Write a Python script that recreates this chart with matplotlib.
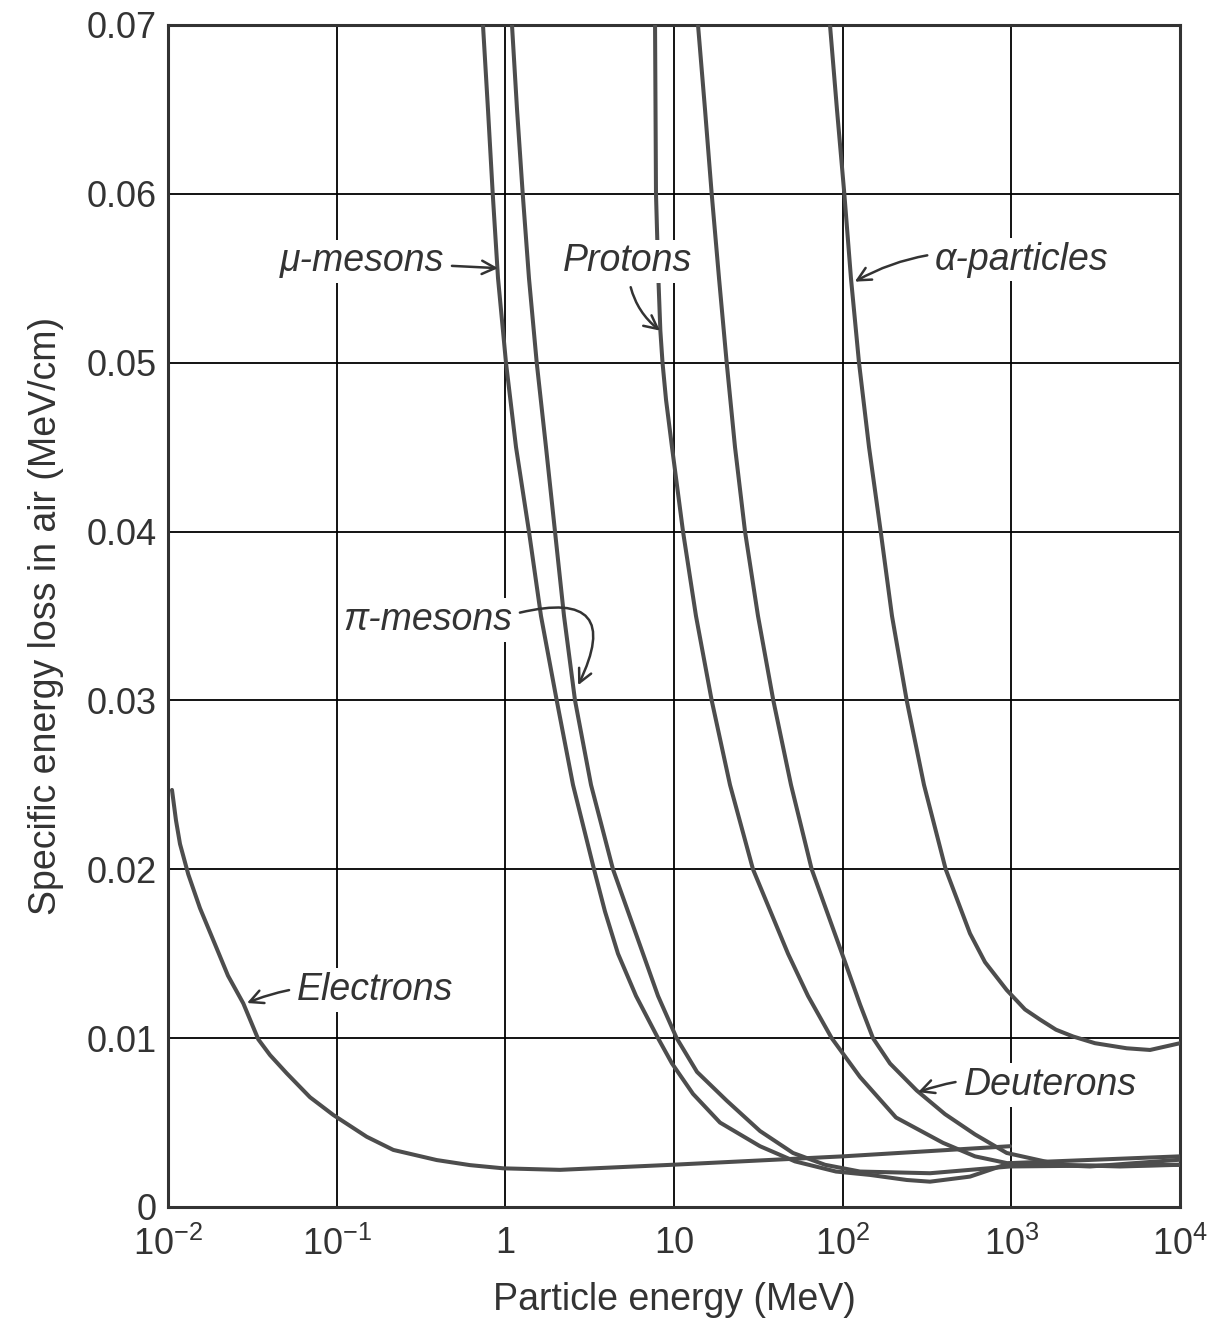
import matplotlib
matplotlib.use("Agg")
import matplotlib.pyplot as plt
from matplotlib.patches import FancyArrowPatch

plt.rcParams['font.family'] = ['Liberation Sans', 'DejaVu Sans']
plt.rcParams['mathtext.fontset'] = 'custom'
plt.rcParams['mathtext.rm'] = 'Liberation Sans'
plt.rcParams['mathtext.it'] = 'Liberation Sans:italic'

# ---- data (energy in MeV, specific energy loss in MeV/cm) ----
mu_E = [0.737, 0.789, 0.842, 0.905, 1.009, 1.157, 1.381, 1.627, 2.017, 2.519, 3.356, 3.898, 4.656,
        5.954, 8.04, 9.73, 12.96, 18.74, 32.35, 52.2, 91.3, 145.2, 240, 329.4, 568.6, 981.8, 10000]
mu_L = [0.070, 0.065, 0.060, 0.055, 0.050, 0.045, 0.040, 0.035, 0.030, 0.025, 0.020, 0.0175, 0.015,
        0.0125, 0.010, 0.0085, 0.0067, 0.0050, 0.0036, 0.0027, 0.0021, 0.0019, 0.0016, 0.0015, 0.0018, 0.0026, 0.0030]

pi_E = [1.095, 1.173, 1.268, 1.381, 1.535, 1.742, 1.970, 2.228, 2.589, 3.221, 4.348, 6.551, 8.04,
        10.37, 13.69, 20.53, 32.35, 50.76, 78.6, 126.7, 329.4, 981.8, 10000]
pi_L = [0.070, 0.065, 0.060, 0.055, 0.050, 0.045, 0.040, 0.035, 0.030, 0.025, 0.020, 0.015, 0.0125,
        0.010, 0.0080, 0.0063, 0.0045, 0.0032, 0.0025, 0.0021, 0.0020, 0.0024, 0.0025]

p_E = [7.72, 7.77, 7.82, 8.08, 8.30, 8.55, 8.97, 9.73, 11.31, 13.50, 16.73, 21.48, 29.40, 47.43, 62.3,
       86.1, 126.7, 207.1, 393.3, 608.9, 942.4, 2926, 10000]
p_L = [0.070, 0.065, 0.060, 0.055, 0.0519, 0.050, 0.0478, 0.045, 0.040, 0.035, 0.030, 0.025, 0.020, 0.015, 0.0125,
       0.010, 0.0077, 0.0053, 0.0038, 0.0030, 0.0026, 0.0024, 0.0028]

d_E = [13.88, 15.27, 16.73, 18.49, 20.53, 23.00, 26.37, 31.48, 38.80, 49.39, 65.53, 104.2, 126.7,
       151.3, 190.8, 274.8, 404.3, 608.9, 938.7, 1943, 4409, 10000]
d_L = [0.070, 0.065, 0.060, 0.055, 0.050, 0.045, 0.040, 0.035, 0.030, 0.025, 0.020, 0.0144, 0.012,
       0.010, 0.0085, 0.0069, 0.0055, 0.0043, 0.0032, 0.0025, 0.0024, 0.0025]

a_E = [84.1, 92.5, 102.3, 112.0, 125.0, 143.3, 168.1, 196.1, 239.7, 303.5, 408.2, 568.6, 698.2,
       938.7, 1205, 1479, 1840, 2321, 3134, 4831, 6645, 10000]
a_L = [0.070, 0.065, 0.060, 0.055, 0.050, 0.045, 0.040, 0.035, 0.030, 0.025, 0.020, 0.0162, 0.0145,
       0.01285, 0.0117, 0.0111, 0.0105, 0.0101, 0.0097, 0.0094, 0.0093, 0.0097]

e_E = [0.01056, 0.01115, 0.01178, 0.01319, 0.01547, 0.01856, 0.02268, 0.02795, 0.03430, 0.04024,
       0.05055, 0.06949, 0.09552, 0.1507, 0.2167, 0.3918, 0.6172, 0.9727, 2.109, 9.73, 100.5, 981.8]
e_L = [0.0247, 0.0229, 0.0215, 0.0197, 0.0177, 0.0158, 0.0137, 0.01206, 0.00993, 0.0090,
       0.00792, 0.0065, 0.00545, 0.00416, 0.00338, 0.00278, 0.00248, 0.00229, 0.0022, 0.0025, 0.0030, 0.0036]

x_ticks = [1e-2, 1e-1, 1, 10, 1e2, 1e3, 1e4]
x_ticklabels = ['$10^{-2}$', '$10^{-1}$', '1', '10', '$10^{2}$', '$10^{3}$', '$10^{4}$']
y_ticks = [0, 0.01, 0.02, 0.03, 0.04, 0.05, 0.06, 0.07]
y_ticklabels = ['0', '0.01', '0.02', '0.03', '0.04', '0.05', '0.06', '0.07']

# ---- figure ----
fig = plt.figure(figsize=(12.16, 13.23), dpi=100)
ax = fig.add_axes([168/1216, 1-1207/1323, (1180-168)/1216, (1207-25)/1323])
ax.set_xscale('log')
ax.set_xlim(1e-2, 1e4)
ax.set_ylim(0, 0.07)

curve_color = '#4d4d4d'
for E, L in [(mu_E, mu_L), (pi_E, pi_L), (p_E, p_L), (d_E, d_L), (a_E, a_L), (e_E, e_L)]:
    ax.plot(E, L, color=curve_color, lw=2.9, solid_joinstyle='round', solid_capstyle='round', zorder=3)

ax.set_xticks(x_ticks)
ax.set_xticklabels(x_ticklabels)
ax.minorticks_off()
ax.set_yticks(y_ticks)
ax.set_yticklabels(y_ticklabels)
ax.tick_params(axis='both', length=0, labelsize=26, colors='#333333')
ax.tick_params(axis='y', pad=8)
ax.tick_params(axis='x', pad=14)
ax.grid(True, color='black', lw=1.3, zorder=1)
for s in ax.spines.values():
    s.set_linewidth(2.2)
    s.set_color('#333333')

ax.set_xlabel('Particle energy (MeV)', fontsize=27, color='#333333', labelpad=14)
ax.set_ylabel('Specific energy loss in air (MeV/cm)', fontsize=27, color='#333333', labelpad=16)

# ---- annotations ----
lab_kw = dict(fontsize=27, style='italic', color='#333333', ha='center', va='center', zorder=5,
              bbox=dict(boxstyle='square,pad=0.1', fc='white', ec='none'))
arr = dict(arrowstyle='->', color='#333333', lw=1.8, mutation_scale=24, shrinkA=3, shrinkB=0)

ax.annotate('μ-mesons', xy=(0.905, 0.0556), xytext=(0.141, 0.0560),
            arrowprops=dict(arr, connectionstyle='arc3,rad=0.0'), **lab_kw)
ax.annotate('Protons', xy=(8.26, 0.0519), xytext=(5.33, 0.0560),
            arrowprops=dict(arr, connectionstyle='arc3,rad=0.25'), **lab_kw)
ax.annotate('α-particles', xy=(118, 0.0548), xytext=(1156, 0.0561),
            arrowprops=dict(arr, connectionstyle='arc3,rad=0.2'), **lab_kw)
ax.annotate('Electrons', xy=(0.0294, 0.01208), xytext=(0.169, 0.01285),
            arrowprops=dict(arr, connectionstyle='arc3,rad=0.15'), **lab_kw)
ax.annotate('Deuterons', xy=(280, 0.0068), xytext=(1694, 0.00722),
            arrowprops=dict(arr, connectionstyle='arc3,rad=0.15'), **lab_kw)

ax.text(0.348, 0.03476, 'π-mesons', **lab_kw)
pi_arrow = FancyArrowPatch(posA=(1.22, 0.0352), posB=(2.70, 0.0309),
                           connectionstyle='arc3,rad=-1.05', arrowstyle='->',
                           color='#333333', lw=1.8, mutation_scale=24, shrinkA=0, shrinkB=0, zorder=5)
ax.add_patch(pi_arrow)

fig.savefig('out.png', dpi=100, facecolor='white')
